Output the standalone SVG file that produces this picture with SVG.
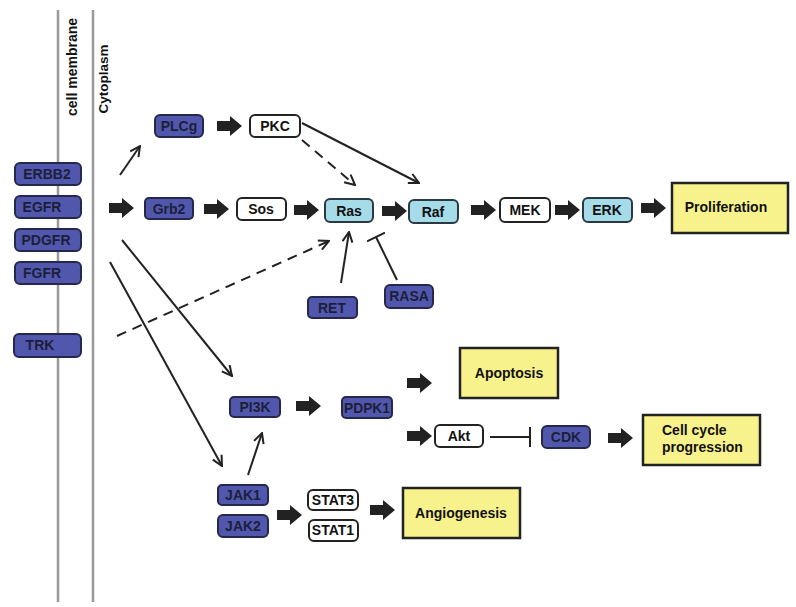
<svg xmlns="http://www.w3.org/2000/svg" width="796" height="607" viewBox="0 0 796 607">
<style>
text{font-family:"Liberation Sans",Arial,sans-serif;font-weight:bold;font-size:14px;text-anchor:middle;dominant-baseline:central;fill:#111}
.d{fill:#5157ad;stroke:#25284a;stroke-width:2}
.w{fill:#fff;stroke:#222;stroke-width:2}
.l{fill:#a6dbe8;stroke:#2a3a44;stroke-width:2}
.y{fill:#f8f28c;stroke:#222;stroke-width:2.5}
.dt{fill:#1c1f3a}
.ln{stroke:#222;stroke-width:2;fill:none}
.ds{stroke-dasharray:10,7}
.mem{stroke:#999;stroke-width:2.5}
</style>
<defs>
<marker id="v" viewBox="0 0 12 12" refX="11" refY="6" markerWidth="12" markerHeight="12" markerUnits="userSpaceOnUse" orient="auto">
<path d="M1,1 L11,6 L1,11" fill="none" stroke="#222" stroke-width="2"/>
</marker>
<marker id="t" viewBox="0 0 4 20" refX="2" refY="10" markerWidth="4" markerHeight="20" markerUnits="userSpaceOnUse" orient="auto">
<path d="M2,0 L2,20" stroke="#222" stroke-width="2"/>
</marker>
<path id="fa" d="M0,-5 L13,-5 L13,-10 L25,0 L13,10 L13,5 L0,5 Z" fill="#222"/>
</defs>
<g id="membrane">
<line class="mem" x1="58" y1="10" x2="58" y2="602"/>
<line class="mem" x1="93" y1="10" x2="93" y2="602"/>
<text x="0" y="0" transform="translate(72,67) rotate(-90)">cell membrane</text>
<text x="0" y="0" transform="translate(103,79) rotate(-90)" style="font-size:13.5px">Cytoplasm</text>
</g>
<g id="connectors">
<use href="#fa" x="109" y="208"/>
<use href="#fa" x="204" y="209"/>
<use href="#fa" x="294" y="210"/>
<use href="#fa" x="382" y="211"/>
<use href="#fa" x="471" y="210"/>
<use href="#fa" x="555" y="210"/>
<use href="#fa" x="641" y="208"/>
<use href="#fa" x="217" y="126"/>
<use href="#fa" x="296" y="406"/>
<use href="#fa" x="407" y="383"/>
<use href="#fa" x="407" y="436"/>
<use href="#fa" x="608" y="438"/>
<use href="#fa" x="277" y="515"/>
<use href="#fa" x="370" y="510"/>
<line class="ln" x1="120" y1="175" x2="140" y2="146" marker-end="url(#v)"/>
<line class="ln" x1="302" y1="123" x2="419" y2="183" marker-end="url(#v)"/>
<line class="ln ds" x1="302" y1="140" x2="355" y2="185" marker-end="url(#v)"/>
<line class="ln ds" x1="117" y1="336" x2="329" y2="241" marker-end="url(#v)"/>
<line class="ln" x1="341" y1="283" x2="349" y2="232" marker-end="url(#v)"/>
<line class="ln" x1="397" y1="280" x2="376" y2="237" marker-end="url(#t)"/>
<line class="ln" x1="122" y1="240" x2="232" y2="376" marker-end="url(#v)"/>
<line class="ln" x1="110" y1="262" x2="222" y2="466" marker-end="url(#v)"/>
<line class="ln" x1="248" y1="475" x2="262" y2="433" marker-end="url(#v)"/>
<line class="ln" x1="490" y1="437" x2="530" y2="437" marker-end="url(#t)"/>
</g>
<g id="ERBB2"><rect class="d" x="15" y="163" width="66" height="22" rx="5"/><text class="dt" x="47" y="174">ERBB2</text></g>
<g id="EGFR"><rect class="d" x="15" y="196" width="66" height="22" rx="5"/><text class="dt" x="42" y="207">EGFR</text></g>
<g id="PDGFR"><rect class="d" x="15" y="229" width="66" height="22" rx="5"/><text class="dt" x="46" y="240">PDGFR</text></g>
<g id="FGFR"><rect class="d" x="15" y="262" width="66" height="22" rx="5"/><text class="dt" x="42" y="273">FGFR</text></g>
<g id="TRK"><rect class="d" x="14" y="334" width="67" height="23" rx="5"/><text class="dt" x="40" y="345">TRK</text></g>
<g id="PLCg"><rect class="d" x="155" y="115" width="48" height="22" rx="5"/><text class="dt" x="179" y="126">PLCg</text></g>
<g id="PKC"><rect class="w" x="250" y="115" width="50" height="22" rx="5"/><text x="275" y="126">PKC</text></g>
<g id="Grb2"><rect class="d" x="145" y="198" width="48" height="21" rx="4"/><text class="dt" x="169" y="209">Grb2</text></g>
<g id="Sos"><rect class="w" x="237" y="198" width="49" height="22" rx="5"/><text x="261" y="209">Sos</text></g>
<g id="Ras"><rect class="l" x="325" y="199" width="48" height="23" rx="5"/><text x="349" y="211">Ras</text></g>
<g id="Raf"><rect class="l" x="409" y="200" width="49" height="23" rx="5"/><text x="433" y="212">Raf</text></g>
<g id="MEK"><rect class="w" x="500" y="198" width="50" height="24" rx="5"/><text x="525" y="210">MEK</text></g>
<g id="ERK"><rect class="l" x="583" y="198" width="49" height="24" rx="5"/><text x="607" y="210">ERK</text></g>
<g id="Proliferation"><rect class="y" x="672" y="183" width="116" height="50"/><text x="726" y="207">Proliferation</text></g>
<g id="RET"><rect class="d" x="308" y="297" width="49" height="21" rx="4"/><text class="dt" x="332" y="308">RET</text></g>
<g id="RASA"><rect class="d" x="385" y="285" width="48" height="23" rx="5"/><text class="dt" x="409" y="296">RASA</text></g>
<g id="PI3K"><rect class="d" x="230" y="397" width="50" height="20" rx="4"/><text class="dt" x="255" y="407">PI3K</text></g>
<g id="PDPK1"><rect class="d" x="342" y="397" width="50" height="21" rx="4"/><text class="dt" x="367" y="408" textLength="46" lengthAdjust="spacingAndGlyphs">PDPK1</text></g>
<g id="Apoptosis"><rect class="y" x="460" y="348" width="98" height="50"/><text x="509" y="373">Apoptosis</text></g>
<g id="Akt"><rect class="w" x="435" y="425" width="48" height="22" rx="5"/><text x="459" y="436">Akt</text></g>
<g id="CDK"><rect class="d" x="542" y="426" width="48" height="22" rx="5"/><text class="dt" x="566" y="437">CDK</text></g>
<g id="CellCycle"><rect class="y" x="643" y="415" width="117" height="50"/><text x="662" y="430" style="text-anchor:start">Cell cycle</text><text x="662" y="447" style="text-anchor:start">progression</text></g>
<g id="JAK1"><rect class="d" x="218" y="485" width="50" height="20" rx="4"/><text class="dt" x="243" y="495">JAK1</text></g>
<g id="JAK2"><rect class="d" x="218" y="515" width="50" height="22" rx="5"/><text class="dt" x="243" y="526">JAK2</text></g>
<g id="STAT3"><rect class="w" x="308" y="490" width="50" height="20" rx="5"/><text x="333" y="500">STAT3</text></g>
<g id="STAT1"><rect class="w" x="309" y="520" width="49" height="21" rx="5"/><text x="333" y="530">STAT1</text></g>
<g id="Angiogenesis"><rect class="y" x="403" y="488" width="117" height="50"/><text x="461" y="513">Angiogenesis</text></g>
</svg>
